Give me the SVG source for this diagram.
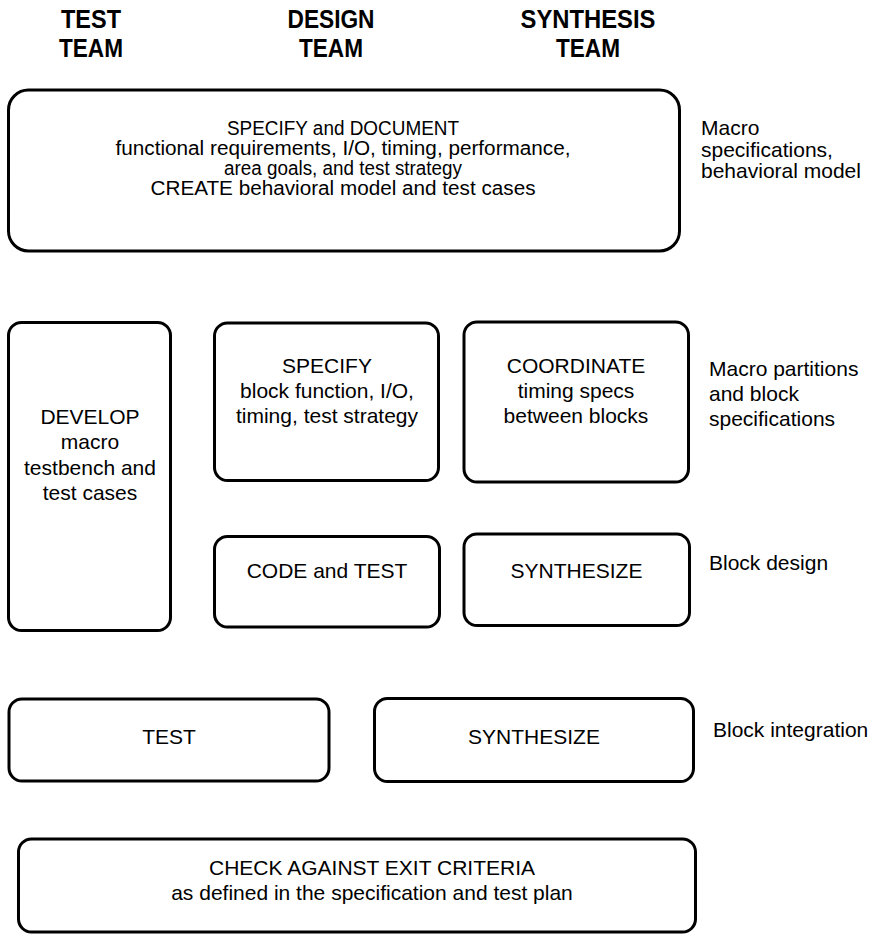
<svg xmlns="http://www.w3.org/2000/svg" width="873" height="936" viewBox="0 0 873 936">
  <style>
    .box { fill: #ffffff; stroke: #000000; stroke-width: 3; }
    .hdr { font-family: "Liberation Sans", Arial, sans-serif; font-weight: bold; font-size: 26px; fill: #000; text-anchor: middle; }
    .t { font-family: "Liberation Sans", Arial, sans-serif; font-size: 21px; fill: #000; text-anchor: middle; }
    .tt { font-family: "Liberation Sans", Arial, sans-serif; font-size: 19.5px; fill: #000; text-anchor: middle; }
    .lbl { font-family: "Liberation Sans", Arial, sans-serif; font-size: 21px; fill: #000; }
  </style>
  <rect width="873" height="936" fill="#ffffff"/>

  <!-- team column headings -->
  <g id="hdr-test">
    <text class="hdr" x="91" y="28" textLength="60" lengthAdjust="spacingAndGlyphs">TEST</text>
    <text class="hdr" x="91" y="57" textLength="64" lengthAdjust="spacingAndGlyphs">TEAM</text>
  </g>
  <g id="hdr-design">
    <text class="hdr" x="331" y="28" textLength="87" lengthAdjust="spacingAndGlyphs">DESIGN</text>
    <text class="hdr" x="331" y="57" textLength="64" lengthAdjust="spacingAndGlyphs">TEAM</text>
  </g>
  <g id="hdr-synthesis">
    <text class="hdr" x="588" y="28" textLength="135" lengthAdjust="spacingAndGlyphs">SYNTHESIS</text>
    <text class="hdr" x="588" y="57" textLength="64" lengthAdjust="spacingAndGlyphs">TEAM</text>
  </g>

  <!-- phase 1: macro specification -->
  <g id="specify-document">
    <rect class="box" x="8.5" y="90" width="671" height="161" rx="20"/>
    <text class="tt" x="343" y="135" textLength="232" lengthAdjust="spacingAndGlyphs">SPECIFY and DOCUMENT</text>
    <text class="tt" x="343" y="155" textLength="455" lengthAdjust="spacingAndGlyphs">functional requirements, I/O, timing, performance,</text>
    <text class="tt" x="343" y="175" textLength="238" lengthAdjust="spacingAndGlyphs">area goals, and test strategy</text>
    <text class="tt" x="343" y="195" textLength="385" lengthAdjust="spacingAndGlyphs">CREATE behavioral model and test cases</text>
  </g>
  <g id="lbl-macro-spec">
    <text class="lbl" x="701" y="135">Macro</text>
    <text class="lbl" x="701" y="156.5">specifications,</text>
    <text class="lbl" x="701" y="178">behavioral model</text>
  </g>

  <!-- phase 2: partitioning and block design -->
  <g id="develop-testbench">
    <rect class="box" x="8.5" y="322.5" width="162" height="308" rx="13"/>
    <text class="t" x="90" y="424">DEVELOP</text>
    <text class="t" x="90" y="449">macro</text>
    <text class="t" x="90" y="475">testbench and</text>
    <text class="t" x="90" y="500">test cases</text>
  </g>
  <g id="specify-block">
    <rect class="box" x="214.5" y="323" width="224" height="157.5" rx="13"/>
    <text class="t" x="327" y="373">SPECIFY</text>
    <text class="t" x="327" y="398">block function, I/O,</text>
    <text class="t" x="327" y="423">timing, test strategy</text>
  </g>
  <g id="coordinate-timing">
    <rect class="box" x="464" y="322" width="224.5" height="160" rx="13"/>
    <text class="t" x="576" y="373">COORDINATE</text>
    <text class="t" x="576" y="398">timing specs</text>
    <text class="t" x="576" y="423">between blocks</text>
  </g>
  <g id="lbl-partitions">
    <text class="lbl" x="709" y="376">Macro partitions</text>
    <text class="lbl" x="709" y="401">and block</text>
    <text class="lbl" x="709" y="426">specifications</text>
  </g>
  <g id="code-test">
    <rect class="box" x="214.5" y="536.5" width="225" height="90.5" rx="13"/>
    <text class="t" x="327" y="578">CODE and TEST</text>
  </g>
  <g id="synthesize-block">
    <rect class="box" x="464" y="534" width="225.5" height="91.5" rx="13"/>
    <text class="t" x="576.5" y="578">SYNTHESIZE</text>
  </g>
  <g id="lbl-block-design">
    <text class="lbl" x="709" y="570">Block design</text>
  </g>

  <!-- phase 3: block integration -->
  <g id="test-integration">
    <rect class="box" x="9" y="699" width="320" height="82" rx="13"/>
    <text class="t" x="169" y="744">TEST</text>
  </g>
  <g id="synthesize-integration">
    <rect class="box" x="374.5" y="698.5" width="319" height="83" rx="13"/>
    <text class="t" x="534" y="744">SYNTHESIZE</text>
  </g>
  <g id="lbl-integration">
    <text class="lbl" x="713" y="737">Block integration</text>
  </g>

  <!-- phase 4: exit check -->
  <g id="check-exit">
    <rect class="box" x="18.5" y="839" width="677" height="93" rx="13"/>
    <text class="t" x="372" y="875">CHECK AGAINST EXIT CRITERIA</text>
    <text class="t" x="372" y="900">as defined in the specification and test plan</text>
  </g>
</svg>
